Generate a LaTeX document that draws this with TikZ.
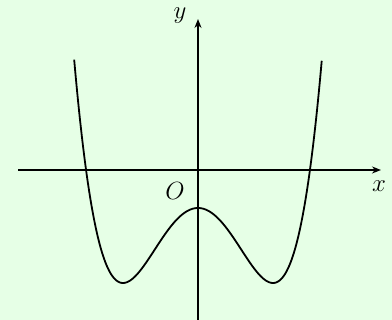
\documentclass[tikz,border=0pt]{standalone}
\usetikzlibrary{arrows.meta}
\definecolor{bgmint}{RGB}{230,255,230}
\begin{document}
\begin{tikzpicture}[x=1pt,y=-1pt,
  axis/.style={line width=1.7pt,-{Stealth[length=9pt,width=7pt]}},
  curve/.style={line width=1.8pt,line join=round},
  lbl/.style={font=\fontsize{24}{28}\selectfont,inner sep=0pt}]
\fill[bgmint] (0,0) rectangle (392,320);
\useasboundingbox (0,0) rectangle (392,320);
\coordinate (xl) at (18,170);
\coordinate (xr) at (381,170);
\coordinate (yb) at (198,320);
\coordinate (yt) at (198,19);
\draw[axis] (xl) -- (xr);
\draw[axis] (yb) -- (yt);
\node[lbl] (ylab) at (180,16) {$y$};
\node[lbl] (xlab) at (379,186) {$x$};
\node[lbl] (olab) at (175,191) {$O$};
\draw[curve] plot[domain=-1.651:1.651,samples=200,smooth] ({198+75*\x},{170-(75*(\x*\x-1)^2-113)});
\end{tikzpicture}
\end{document}
